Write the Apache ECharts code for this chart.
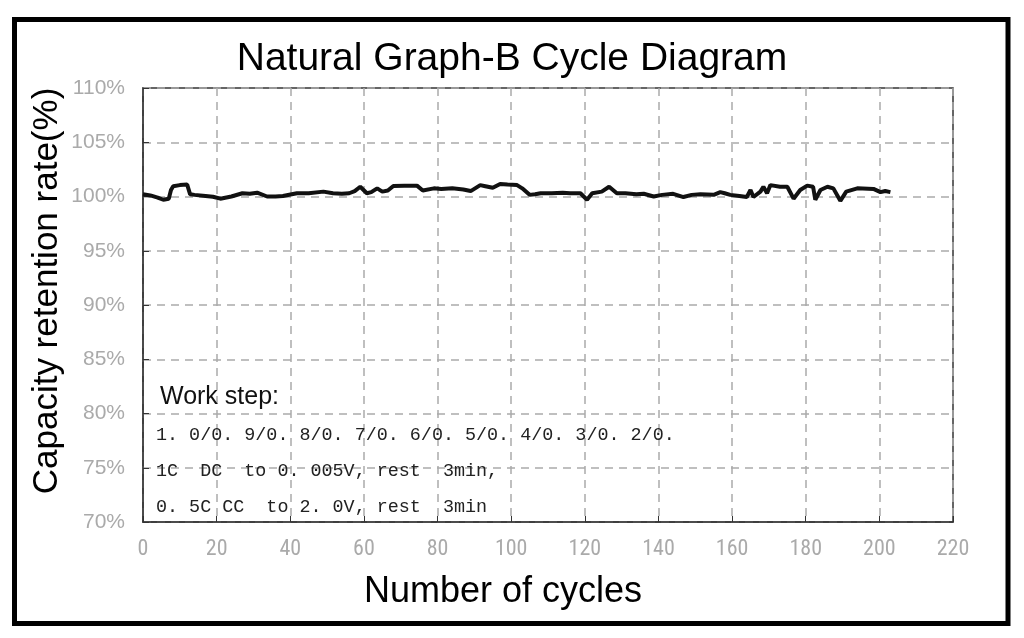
<!DOCTYPE html>
<html>
<head>
<meta charset="utf-8">
<script src="https://cdn.jsdelivr.net/npm/echarts@6/dist/echarts.min.js"></script>
<style>
html,body{margin:0;padding:0;background:#fff;}
#chart{width:1024px;height:638px;}
</style>
</head>
<body>
<div id="chart"></div>
<script>
// ---- data ----
var titleText = 'Natural Graph-B Cycle Diagram';
var xName = 'Number of cycles';
var yName = 'Capacity retention rate(%)';
var cycles = [0,2,4,5.5,7,7.6,8.2,10,12,12.8,14,17,19,21,24,27,29,31,33.7,36,38,41.8,45,49,51.6,54,56,57.5,59,60.8,62,63.6,65,66.5,68,71,74.4,76,79,81,84,87,89,91.6,93,95,97,99,101.6,103,105,106.5,108,111,114,116,118.8,120.6,122,124.6,126.6,128.7,131,134,136,138.7,141,144,146.8,149,151.4,155,156.8,158,159.5,162,164,165,165.8,167.7,168.5,169.5,170.4,173,175,176.7,178.5,180.4,182,182.6,184,185.9,187.5,189.4,191,194,198.4,200.3,201.6,203];
var retention = [100.2,100.1,99.9,99.7,99.8,100.6,100.95,101.05,101.1,100.2,100.15,100.05,99.98,99.8,100.0,100.3,100.25,100.35,100.0,100.0,100.05,100.3,100.3,100.45,100.3,100.25,100.3,100.5,100.9,100.3,100.4,100.75,100.45,100.55,100.97,101.0,101.0,100.55,100.75,100.7,100.75,100.65,100.5,101.05,100.95,100.8,101.15,101.1,101.05,100.75,100.15,100.2,100.3,100.3,100.35,100.3,100.3,99.7,100.3,100.45,100.9,100.3,100.3,100.2,100.25,100.0,100.15,100.25,99.95,100.15,100.2,100.15,100.4,100.3,100.15,100.05,99.95,100.6,99.95,100.45,100.9,100.3,101.05,100.9,100.9,99.8,100.6,101.0,100.9,99.7,100.6,100.9,100.75,99.6,100.45,100.75,100.7,100.4,100.5,100.4];
var noteLines = [
  '1. 0/0. 9/0. 8/0. 7/0. 6/0. 5/0. 4/0. 3/0. 2/0.',
  '1C  DC  to 0. 005V, rest  3min,',
  '0. 5C CC  to 2. 0V, rest  3min'
];
var noteHeader = 'Work step:';

var seriesData = cycles.map(function(c, i){ return [c, retention[i]]; });

var chart = echarts.init(document.getElementById('chart'), null, {renderer:'canvas'});
var graphics = [
  {type:'rect', shape:{x:14.5, y:19.5, width:993.5, height:604}, style:{fill:'none', stroke:'#000', lineWidth:5}, z:10},
  {type:'text', left:160, top:385, style:{text:noteHeader, font:'25px "Liberation Sans", Arial, sans-serif', fill:'#111'}, z:10},
  {type:'text', x:503, y:592, style:{text:xName, font:'36px "Liberation Sans", Arial, sans-serif', fill:'#000', align:'center', verticalAlign:'middle'}, z:10},
  {type:'text', x:47, y:291, rotation:Math.PI/2, style:{text:yName, font:'35px "Liberation Sans", Arial, sans-serif', fill:'#000', align:'center', verticalAlign:'middle'}, z:10}
];
noteLines.forEach(function(t, i){
  graphics.push({type:'text', left:156, top:426 + i*36, style:{text:t, font:'18.4px "Liberation Mono", "DejaVu Sans Mono", monospace', fill:'#222'}, z:10});
});

chart.setOption({
  backgroundColor:'#fff',
  animation:false,
  title:{
    text:titleText, left:'center', top:35,
    textStyle:{fontFamily:'"Liberation Sans", Arial, sans-serif', fontSize:39, fontWeight:'normal', color:'#000'}
  },
  grid:{left:143, right:71, top:88, bottom:116, show:true, borderColor:'#333', borderWidth:1.5, containLabel:false},
  xAxis:{
    type:'value', min:0, max:220, interval:20,
    axisLine:{show:true, lineStyle:{color:'#333', width:1.5}},
    axisTick:{show:true, inside:true, length:6, lineStyle:{color:'#333'}},
    axisLabel:{color:'#aaa', fontSize:22, fontFamily:'"Liberation Sans Narrow", "Roboto Condensed", "Liberation Sans", sans-serif', margin:16},
    splitLine:{show:true, lineStyle:{color:'#aaa', type:[8,6], width:1.5}}
  },
  yAxis:{
    type:'value', min:70, max:110, interval:5,
    axisLine:{show:true, lineStyle:{color:'#333', width:1.5}},
    axisTick:{show:true, inside:true, length:6, lineStyle:{color:'#333'}},
    axisLabel:{color:'#aaa', fontSize:21, fontFamily:'"Liberation Sans", Arial, sans-serif', margin:18, formatter:'{value}%'},
    splitLine:{show:true, lineStyle:{color:'#aaa', type:[8,6], width:1.5}}
  },
  series:[{
    type:'line', data:seriesData, showSymbol:false, symbol:'none',
    lineStyle:{color:'#111', width:4}, z:5
  }],
  graphic:graphics
});
</script>
</body>
</html>
